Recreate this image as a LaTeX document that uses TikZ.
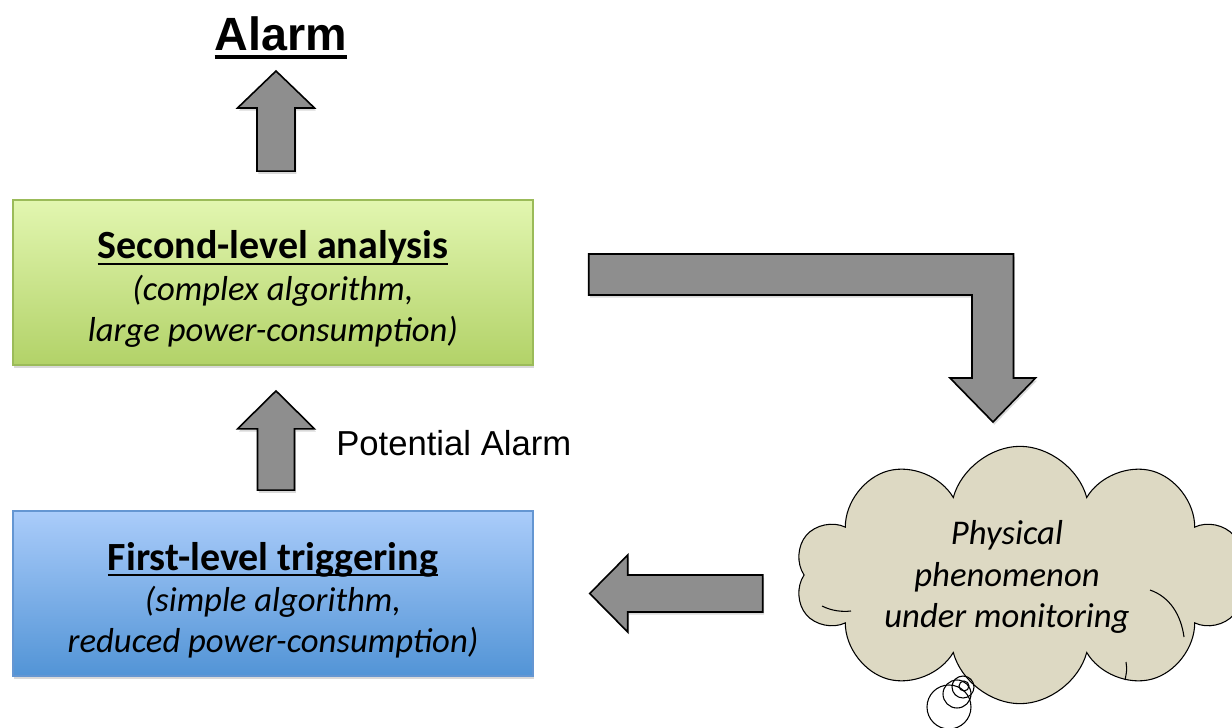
\documentclass[tikz,border=0pt]{standalone}
\usepackage{fontspec}
\setmainfont{Carlito}
\newfontfamily\arialfont{Liberation Sans}
\usetikzlibrary{calc,shapes.symbols,shadows}

% underline that sits just under the baseline
\newcommand{\ulhead}[1]{\setbox0\hbox{#1}\rlap{\vrule width\wd0 height -3pt depth 4.6pt}\box0}

\definecolor{arrowgray}{RGB}{142,142,142}
\definecolor{greentop}{RGB}{226,246,176}
\definecolor{greenbot}{RGB}{178,210,104}
\definecolor{greenline}{RGB}{155,187,89}
\definecolor{bluetop}{RGB}{170,204,250}
\definecolor{bluebot}{RGB}{82,148,214}
\definecolor{blueline}{RGB}{100,150,210}
\definecolor{cloudtan}{RGB}{221,217,195}

\begin{document}
\begin{tikzpicture}[
x=0.75pt, y=-0.75pt,
stage/.style={
draw=#1line,
line width=1.1pt,
top color=#1top,
bottom color=#1bot,
minimum width=390pt,
minimum height=124pt,
align=center,
font=\fontsize{26}{31}\selectfont,
drop shadow={opacity=0.3, shadow xshift=1pt, shadow yshift=-2pt}
},
fat/.style={
draw,
line width=1.2pt,
fill=arrowgray,
drop shadow={opacity=0.3, shadow xshift=1pt, shadow yshift=-2pt}
},
puff/.style={line width=0.8pt}
]
\useasboundingbox (0,0) rectangle (1232,728);

\node[font=\arialfont\bfseries\fontsize{35}{40}\selectfont, inner sep=0, anchor=base] (alarm) at (281,50)
{Alarm};
\draw[line width=3pt] ($(alarm.base west)+(0,7)$) -- ($(alarm.base east)+(0,7)$);

\node[stage=green] (second) at (273,282.5)
{{\rule{0pt}{31pt}\fontsize{30}{31}\selectfont\bfseries\ulhead{Second-level analysis}}\\
\itshape (complex algorithm,\\
\itshape large power-consumption)};

\node[stage=blue] (first) at (273,593.5)
{{\rule{0pt}{31pt}\fontsize{30}{31}\selectfont\bfseries\ulhead{First-level triggering}}\\
\itshape (simple algorithm,\\
\itshape reduced power-consumption)};

\node[font=\arialfont\fontsize{26}{30}\selectfont, inner sep=0, anchor=base west] (potential) at (336,455)
{Potential Alarm};

% the cloud
\node[cloud, cloud puffs=10, cloud ignores aspect, draw, line width=0.8pt, fill=cloudtan,
minimum width=337pt, minimum height=193pt, inner sep=0] (cloud) at (1020,575) {};
\node[font=\fontsize{26}{31}\selectfont\itshape, align=center] (phen) at (1007,577)
{Physical\\phenomenon\\under monitoring};
\draw[puff] (1150,590) .. controls (1170,597) and (1181,615) .. (1184,637);
\draw[puff] (822,606) .. controls (832,611) and (842,612) .. (851,611);
\draw[puff] (1126,662) .. controls (1127,670) .. (1125,680);
\draw[puff] (949,707) circle (22);
\draw[puff] (957,694) circle (14);
\draw[puff] (963,687) circle (11);
\draw[puff] (964,686) circle (5);

% block arrows
\coordinate (upA) at ($(second.north)+(3,-28)$);
\coordinate (tipA) at ($(alarm.base)+(-5,21)$);
\draw[fat] ($(upA)+(-19,0)$) -- ($(tipA)+(-19,37)$) -- ++(-19.5,0) -- (tipA)
-- ++(38.5,37) -- ++(-19.5,0) -- ($(upA)+(19,0)$) -- cycle;

\coordinate (upB) at ($(first.north)+(3,-20)$);
\coordinate (tipB) at ($(second.south)+(3,25)$);
\draw[fat] ($(upB)+(-18.5,0)$) -- ($(tipB)+(-18.5,38)$) -- ++(-20,0) -- (tipB)
-- ++(38.5,38) -- ++(-20,0) -- ($(upB)+(18.5,0)$) -- cycle;

\coordinate (tailC) at ($(first.east)+(229,0)$);
\coordinate (tipC) at ($(first.east)+(56,0)$);
\draw[fat] ($(tailC)+(0,-18.5)$) -- ($(tipC)+(38,-18.5)$) -- ++(0,-20) -- (tipC)
-- ++(38,38.5) -- ++(0,-20) -- ($(tailC)+(0,18.5)$) -- cycle;

\coordinate (tailD) at ($(second.east)+(55,-8)$);
\coordinate (tipD) at (993,422);
\draw[fat] ($(tailD)+(0,-20.5)$) -| ($(tipD)+(20.5,-44)$) -- ++(22,0) -- (tipD)
-- ++(-43,-44) -- ++(22,0) |- ($(tailD)+(0,20.5)$) -- cycle;

\end{tikzpicture}
\end{document}
